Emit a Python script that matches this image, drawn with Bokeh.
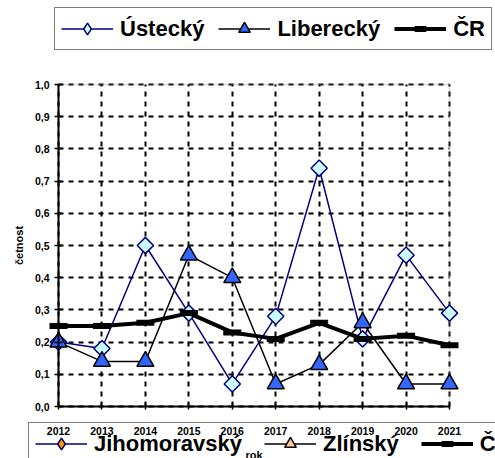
import math
from bokeh.plotting import figure
from bokeh.models import (ColumnDataSource, Range1d, FixedTicker, Legend, LegendItem,
                          CustomJSTickFormatter, BoxAnnotation)
from bokeh.embed import file_html
from bokeh.resources import INLINE

# ---- data ----
years = [2012, 2013, 2014, 2015, 2016, 2017, 2018, 2019, 2020, 2021]
ustecky = [0.20, 0.18, 0.50, 0.29, 0.07, 0.28, 0.74, 0.21, 0.47, 0.29]
liberecky = [0.20, 0.14, 0.14, 0.47, 0.40, 0.07, 0.13, 0.26, 0.07, 0.07]
cr = [0.25, 0.25, 0.26, 0.29, 0.23, 0.21, 0.26, 0.21, 0.22, 0.19]
jihomoravsky = []   # series only present in legend (no visible points)
zlinsky = []        # series only present in legend (no visible points)
y_ticks = [0.0, 0.1, 0.2, 0.3, 0.4, 0.5, 0.6, 0.7, 0.8, 0.9, 1.0]
x_label = "rok"
y_label = "četnost"

src = ColumnDataSource(dict(x=years, u=ustecky, l=liberecky, c=cr))
# legend-only series: one invisible (NaN) row so that their legend glyphs get drawn
j_src = ColumnDataSource(dict(x=[float("nan")], y=jihomoravsky or [float("nan")]))
z_src = ColumnDataSource(dict(x=[float("nan")], y=zlinsky or [float("nan")]))
legend_only = ColumnDataSource(dict(x=[float("nan")], y=[float("nan")]))

FONT = "Liberation Sans"

# ---- layout: the frame covers the whole canvas; the plot area is placed by the ranges ----
W, H = 495, 458
PL, PR, PT, PB = 58, 449, 84, 406          # plot-area box in pixels
X0, X1 = years[0], years[-1]
Y0, Y1 = y_ticks[0], y_ticks[-1]
kx = (PR - PL) / (X1 - X0)
ky = (PB - PT) / (Y1 - Y0)
x_start = X0 - PL / kx
x_end = x_start + W / kx
y_end = Y1 + PT / ky
y_start = Y0 - (H - PB) / ky

p = figure(width=W, height=H, output_backend="svg", toolbar_location=None, title=None,
           x_range=Range1d(x_start, x_end), y_range=Range1d(y_start, y_end),
           min_border=0, min_border_left=0, min_border_right=0,
           min_border_top=0, min_border_bottom=0)
p.background_fill_color = "white"
p.border_fill_color = "white"
p.outline_line_color = None

# axes, pinned to the plot-area edges
p.xaxis.fixed_location = Y0
p.yaxis.fixed_location = X0
p.xaxis.bounds = (X0, X1)
p.yaxis.bounds = (Y0, Y1)
p.xaxis.ticker = FixedTicker(ticks=years)
p.yaxis.ticker = FixedTicker(ticks=y_ticks)
p.yaxis.formatter = CustomJSTickFormatter(code="return tick.toFixed(1).replace('.', ',');")
for ax in (p.xaxis[0], p.yaxis[0]):
    ax.axis_line_color = "black"
    ax.axis_line_width = 2
    ax.major_tick_line_color = "black"
    ax.major_tick_line_width = 1.5
    ax.minor_tick_line_color = None
    ax.major_label_text_font = FONT
    ax.major_label_text_font_style = "bold"
    ax.major_label_text_font_size = "10.5px"
    ax.major_label_text_color = "black"
    ax.axis_label_text_font = FONT
    ax.axis_label_text_font_style = "bold"
    ax.axis_label_text_font_size = "11px"
    ax.axis_label_text_color = "black"
p.xaxis.major_tick_in = 4
p.xaxis.major_tick_out = 3
p.xaxis.major_label_standoff = 17
p.xaxis.axis_label = x_label
p.xaxis.axis_label_standoff = 11
p.yaxis.major_tick_in = 4
p.yaxis.major_tick_out = 4
p.yaxis.major_label_standoff = 5
p.yaxis.axis_label = y_label
p.yaxis.axis_label_standoff = 7

# grid limited to the plot area
p.xgrid.ticker = FixedTicker(ticks=years)
p.ygrid.ticker = FixedTicker(ticks=y_ticks)
p.xgrid.bounds = (X0, X1)
p.xgrid.cross_bounds = (Y0, Y1)
p.ygrid.bounds = (Y0, Y1)
p.ygrid.cross_bounds = (X0, X1)
for g in (p.xgrid[0], p.ygrid[0]):
    g.grid_line_color = "black"
    g.grid_line_width = 2
    g.grid_line_dash = "5 5"

# grey plot-area border
p.add_layout(BoxAnnotation(left=X0, right=X1, bottom=Y0, top=Y1, fill_alpha=0,
                           line_color="#808080", line_width=1.5, level="underlay"))

# series
u_line = p.line('x', 'u', source=src, line_color="#000080", line_width=1.5)
u_pts = p.scatter('x', 'u', source=src, marker="square", angle=math.pi / 4, size=11.5,
                  fill_color="#CCFFFF", line_color="#000080", line_width=1.5)
c_line = p.line('x', 'c', source=src, line_color="black", line_width=4)
c_pts = p.scatter('x', 'c', source=src, marker="dash", size=18, line_color="black", line_width=6)
l_line = p.line('x', 'l', source=src, line_color="black", line_width=1.5)
l_pts = p.scatter('x', 'l', source=src, marker="triangle", size=17,
                  fill_color="#3366FF", line_color="black", line_width=1.5)

# series that appear only in the (second) legend
j_line = p.line('x', 'y', source=j_src, line_color="#000080", line_width=1.5)
j_leg = p.scatter('x', 'y', source=j_src, marker="diamond", size=17,
                  fill_color="#FF9900", line_color="#000080", line_width=1.5)
z_line = p.line('x', 'y', source=z_src, line_color="black", line_width=1.5)
z_leg = p.scatter('x', 'y', source=z_src, marker="triangle", size=17,
                  fill_color="#FFCC99", line_color="black", line_width=1.5)

# legend-only diamond for Ústecký (legend glyphs are drawn unrotated)
u_leg = p.scatter('x', 'y', source=legend_only, marker="diamond", size=17,
                  fill_color="#CCFFFF", line_color="#000080", line_width=1.5)


def make_legend(items, loc, bg_alpha, spacing):
    return Legend(items=items, location=loc, orientation="horizontal",
                  border_line_color="black", border_line_width=1.5,
                  background_fill_color="white", background_fill_alpha=bg_alpha,
                  padding=6, spacing=spacing, margin=0,
                  glyph_width=52, glyph_height=29, label_height=24, label_standoff=7,
                  label_text_font=FONT, label_text_font_style="bold",
                  label_text_font_size="22px", label_text_color="black")


top = make_legend([
    LegendItem(label="Ústecký", renderers=[u_line, u_leg]),
    LegendItem(label="Liberecký", renderers=[l_line, l_pts]),
    LegendItem(label="ČR", renderers=[c_line, c_pts]),
], (54, H - 50), 1.0, 14)
bottom = make_legend([
    LegendItem(label="Jihomoravský", renderers=[j_line, j_leg]),
    LegendItem(label="Zlínský", renderers=[z_line, z_leg]),
    LegendItem(label="ČR", renderers=[c_line, c_pts]),
], (28, H - 465), 0.0, 22)
p.add_layout(top, "center")
p.add_layout(bottom, "center")

open("out.html", "w").write(file_html(p, INLINE))
